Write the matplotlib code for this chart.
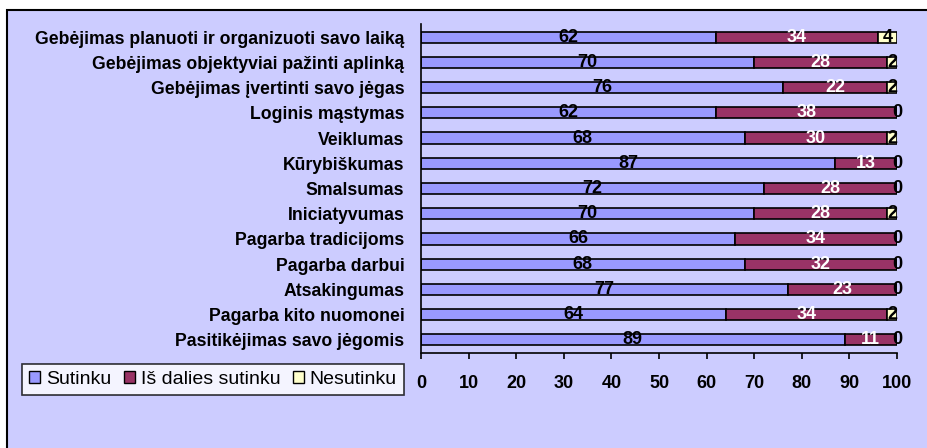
import matplotlib.pyplot as plt
import matplotlib.patches as mpatches
import numpy as np

plt.rcParams['font.family'] = ['Liberation Sans', 'DejaVu Sans']

categories = [
    "Gebėjimas planuoti ir organizuoti savo laiką",
    "Gebėjimas objektyviai pažinti aplinką",
    "Gebėjimas įvertinti savo jėgas",
    "Loginis mąstymas",
    "Veiklumas",
    "Kūrybiškumas",
    "Smalsumas",
    "Iniciatyvumas",
    "Pagarba tradicijoms",
    "Pagarba darbui",
    "Atsakingumas",
    "Pagarba kito nuomonei",
    "Pasitikėjimas savo jėgomis",
]
sutinku = [62, 70, 76, 62, 68, 87, 72, 70, 66, 68, 77, 64, 89]
is_dalies = [34, 28, 22, 38, 30, 13, 28, 28, 34, 32, 23, 34, 11]
nesutinku = [4, 2, 2, 0, 2, 0, 0, 2, 0, 0, 0, 2, 0]

series = ["Sutinku", "Iš dalies sutinku", "Nesutinku"]
colors = ["#9999FF", "#993366", "#FFFFCC"]
text_colors = ["black", "white", "black"]

fig = plt.figure(figsize=(9.27, 4.48), dpi=100)
fig.patch.set_facecolor("white")

# lavender chart area with black frame (runs off right/bottom edge)
bg = mpatches.Rectangle((7 / 927, -0.05), 1.1, 1 - 10 / 448 + 0.05,
                        transform=fig.transFigure, facecolor="#CCCCFF",
                        edgecolor="black", linewidth=1.5, zorder=-10)
fig.add_artist(bg)

ax = fig.add_axes([421 / 927, 1 - 352.5 / 448, 476 / 927, (352.5 - 24.5) / 448])
ax.set_facecolor("none")
ax.set_zorder(2)

y = np.arange(len(categories))
left = np.zeros(len(categories))
for vals, col, tcol, name in zip([sutinku, is_dalies, nesutinku], colors, text_colors, series):
    vals = np.array(vals, dtype=float)
    ax.barh(y, vals, left=left, height=0.44, color=col,
            edgecolor="black", linewidth=1.2, label=name)
    for yi, l, v in zip(y, left, vals):
        ax.text(l + v / 2, yi, f"{int(v)}", ha="center", va="center",
                color=tcol, fontsize=13, fontweight="bold")
    left += vals

ax.set_xlim(0, 100)
ax.set_ylim(len(categories) - 0.5, -0.5)
ax.set_yticks(y)
ax.set_yticklabels(categories, fontsize=12.7, fontweight="bold")
ax.tick_params(axis="y", length=0, pad=12)
ax.set_xticks(range(0, 101, 10))
ax.tick_params(axis="x", direction="out", length=4.5, width=1.2, pad=12,
               labelsize=13)
for lbl in ax.get_xticklabels():
    lbl.set_fontweight("bold")
ax.spines["top"].set_visible(False)
ax.spines["right"].set_visible(False)
ax.spines["left"].set_linewidth(1.2)
ax.spines["bottom"].set_linewidth(1.2)

handles = [mpatches.Patch(facecolor=c, edgecolor="black", linewidth=1) for c in colors]
leg = fig.legend(handles, series, loc="lower left",
                 bbox_to_anchor=(22 / 927, 1 - 395 / 448), ncol=3,
                 fontsize=14, frameon=True, fancybox=False,
                 handlelength=0.57, handleheight=0.57, handletextpad=0.3,
                 columnspacing=0.65, borderpad=0.35, borderaxespad=0)
leg.get_frame().set_edgecolor("black")
leg.get_frame().set_linewidth(1.2)
leg.get_frame().set_facecolor("white")

fig.savefig("out.png", dpi=100)
